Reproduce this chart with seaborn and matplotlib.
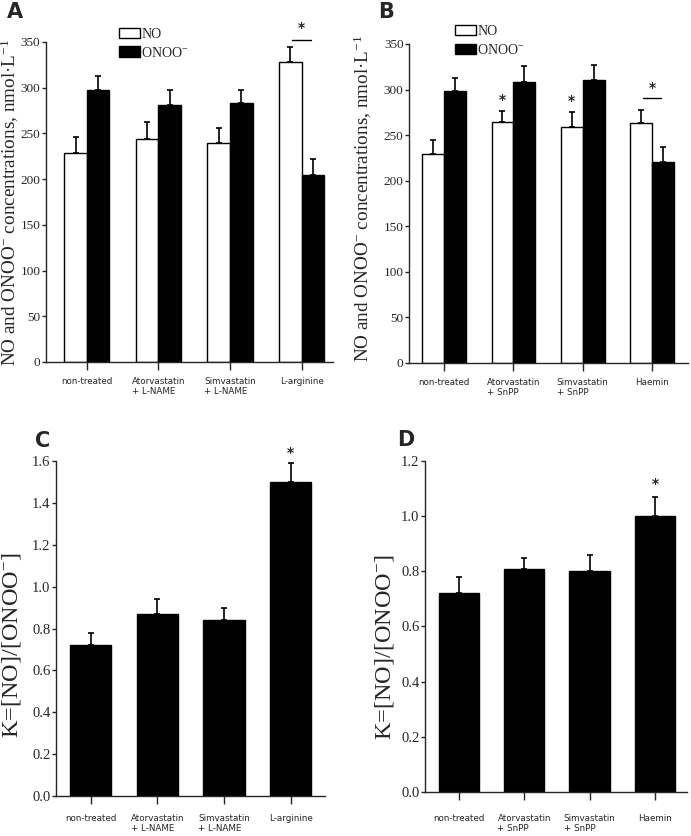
import matplotlib
matplotlib.use("Agg")
import matplotlib.pyplot as plt
import matplotlib.patches as mpatches
import numpy as np
import pandas as pd
import seaborn as sns

# ---- data ----
groups_ab_a = ["non-treated", "Atorvastatin\n+ L-NAME", "Simvastatin\n+ L-NAME", "L-arginine"]
groups_ab_b = ["non-treated", "Atorvastatin\n+ SnPP", "Simvastatin\n+ SnPP", "Haemin"]

no_a = [229, 244, 239, 328]
no_a_err = [17, 19, 17, 16]
onoo_a = [298, 281, 283, 205]
onoo_a_err = [15, 16, 15, 17]

no_b = [229, 264, 259, 263]
no_b_err = [16, 12, 16, 15]
onoo_b = [298, 308, 310, 220]
onoo_b_err = [15, 18, 17, 17]

k_c = [0.72, 0.87, 0.84, 1.50]
k_c_err = [0.06, 0.07, 0.06, 0.09]
k_d = [0.72, 0.81, 0.80, 1.00]
k_d_err = [0.06, 0.04, 0.06, 0.07]

sns.set_style("ticks")
plt.rcParams["font.family"] = ["Liberation Serif", "DejaVu Serif"]
plt.rcParams["mathtext.fontset"] = "custom"
plt.rcParams["mathtext.rm"] = "Liberation Serif"
plt.rcParams["mathtext.it"] = "Liberation Serif:italic"
plt.rcParams["mathtext.bf"] = "Liberation Serif:bold"
plt.rcParams["axes.linewidth"] = 1.0

fig = plt.figure(figsize=(6.91, 8.36), dpi=100)
axA = fig.add_axes([0.0666, 0.567, 0.4154, 0.3828])
axB = fig.add_axes([0.592, 0.5658, 0.4037, 0.3816])
axC = fig.add_axes([0.081, 0.0478, 0.389, 0.4008])
axD = fig.add_axes([0.615, 0.0526, 0.379, 0.396])

label_conc = r"NO and ONOO$^{\mathrm{-}}$ concentrations, nmol·L$^{\mathrm{-1}}$"
label_k = r"K=[NO]/[ONOO$^{\mathrm{-}}$]"
star_kw = dict(ha="center", va="bottom", fontsize=10, family="DejaVu Sans",
               fontweight="bold", clip_on=False)


def style_axis(ax, cats, xlim, ylim, yticks, fmt, xpad, ysize):
    sns.despine(ax=ax)
    ax.set_xlim(*xlim)
    ax.set_ylim(*ylim)
    ax.set_yticks(yticks)
    ax.set_yticklabels([fmt.format(v) for v in yticks], fontsize=ysize)
    ax.set_xticks(range(len(cats)))
    ax.set_xticklabels(cats, fontsize=6.3, family="DejaVu Sans", linespacing=1.15)
    for lbl in ax.get_xticklabels():
        lbl.set_multialignment("left")
    ax.tick_params(axis="y", length=3, width=1, pad=1)
    ax.tick_params(axis="x", length=6, width=1, pad=xpad)
    ax.set_xlabel("")


def draw_errs(ax, vals, errs, patches):
    xs = [p.get_x() + p.get_width() / 2 for p in patches]
    ax.errorbar(xs, vals, yerr=[np.zeros(len(errs)), errs], fmt="none",
                ecolor="black", elinewidth=1.2, capsize=2.5, capthick=1.2)


def grouped(ax, cats, no, no_err, onoo, onoo_err):
    df = pd.DataFrame({
        "group": cats * 2,
        "value": no + onoo,
        "species": ["NO"] * len(cats) + ["ONOO"] * len(cats),
    })
    sns.barplot(data=df, x="group", y="value", hue="species", ax=ax,
                palette={"NO": "white", "ONOO": "black"}, width=0.63,
                edgecolor="black", linewidth=1.0, errorbar=None, legend=False)
    bars = [p for p in ax.patches if p.get_height() > 0]
    bars = sorted(bars, key=lambda p: p.get_x())
    no_bars = bars[0::2]
    onoo_bars = bars[1::2]
    draw_errs(ax, no, no_err, no_bars)
    draw_errs(ax, onoo, onoo_err, onoo_bars)
    ax.set_ylabel(label_conc, fontsize=13.8)
    return no_bars, onoo_bars


def single(ax, cats, vals, errs):
    df = pd.DataFrame({"group": cats, "value": vals})
    sns.barplot(data=df, x="group", y="value", ax=ax, color="black",
                width=0.62, edgecolor="black", linewidth=1.0, errorbar=None)
    bars = sorted([p for p in ax.patches if p.get_height() > 0], key=lambda p: p.get_x())
    draw_errs(ax, vals, errs, bars)
    ax.set_ylabel(label_k, fontsize=17.5)
    return bars


def legend(ax, pos):
    handles = [mpatches.Patch(facecolor="white", edgecolor="black", label="NO"),
               mpatches.Patch(facecolor="black", edgecolor="black", label=r"ONOO$^{\mathrm{-}}$")]
    ax.legend(handles=handles, loc="upper left", bbox_to_anchor=pos, frameon=False,
              fontsize=10, handlelength=1.5, handleheight=0.8, handletextpad=0.1,
              labelspacing=0.35, borderpad=0, borderaxespad=0)


# ---- A ----
noA, onA = grouped(axA, groups_ab_a, no_a, no_a_err, onoo_a, onoo_a_err)
style_axis(axA, groups_ab_a, (-0.57, 3.44), (0, 350), range(0, 351, 50), "{:d}", 5, 9.5)
axA.yaxis.set_label_coords(-0.088, 0.5)
legend(axA, (0.255, 1.045))
x0 = noA[3].get_x() + noA[3].get_width() / 2
x1 = onA[3].get_x() + onA[3].get_width() / 2
axA.plot([x0 + 0.03, x1 - 0.03], [352, 352], color="black", lw=1.0, clip_on=False)
axA.text((x0 + x1) / 2, 358, "*", **star_kw)

# ---- B ----
noB, onB = grouped(axB, groups_ab_b, no_b, no_b_err, onoo_b, onoo_b_err)
style_axis(axB, groups_ab_b, (-0.505, 3.52), (0, 350), range(0, 351, 50), "{:d}", 5, 9.5)
axB.yaxis.set_label_coords(-0.125, 0.515)
legend(axB, (0.165, 1.06))
for i in (1, 2):
    xc = noB[i].get_x() + noB[i].get_width() / 2
    axB.text(xc, no_b[i] + no_b_err[i] + 5, "*", **star_kw)
x0 = noB[3].get_x() + noB[3].get_width() / 2
x1 = onB[3].get_x() + onB[3].get_width() / 2
axB.plot([x0 + 0.03, x1 - 0.03], [291, 291], color="black", lw=1.0)
axB.text((x0 + x1) / 2, 294, "*", **star_kw)

# ---- C ----
barsC = single(axC, groups_ab_a, k_c, k_c_err)
style_axis(axC, groups_ab_a, (-0.52, 3.51), (0, 1.6), np.arange(0, 1.61, 0.2), "{:.1f}", 7, 10.5)
axC.yaxis.set_label_coords(-0.124, 0.45)
axC.text(3, k_c[3] + k_c_err[3] + 0.015, "*", **star_kw)

# ---- D ----
barsD = single(axD, groups_ab_b, k_d, k_d_err)
style_axis(axD, groups_ab_b, (-0.52, 3.49), (0, 1.2), np.arange(0, 1.21, 0.2), "{:.1f}", 10, 10.5)
axD.yaxis.set_label_coords(-0.112, 0.438)
axD.text(3, k_d[3] + k_d_err[3] + 0.02, "*", **star_kw)

# panel letters
for letter, xy in [("A", (0.01, 0.986)), ("B", (0.547, 0.986)),
                   ("C", (0.05, 0.4725)), ("D", (0.574, 0.4735))]:
    fig.text(xy[0], xy[1], letter, fontsize=15, fontweight="bold", family="DejaVu Sans",
             ha="left", va="center")

fig.savefig("out.png", dpi=100)
